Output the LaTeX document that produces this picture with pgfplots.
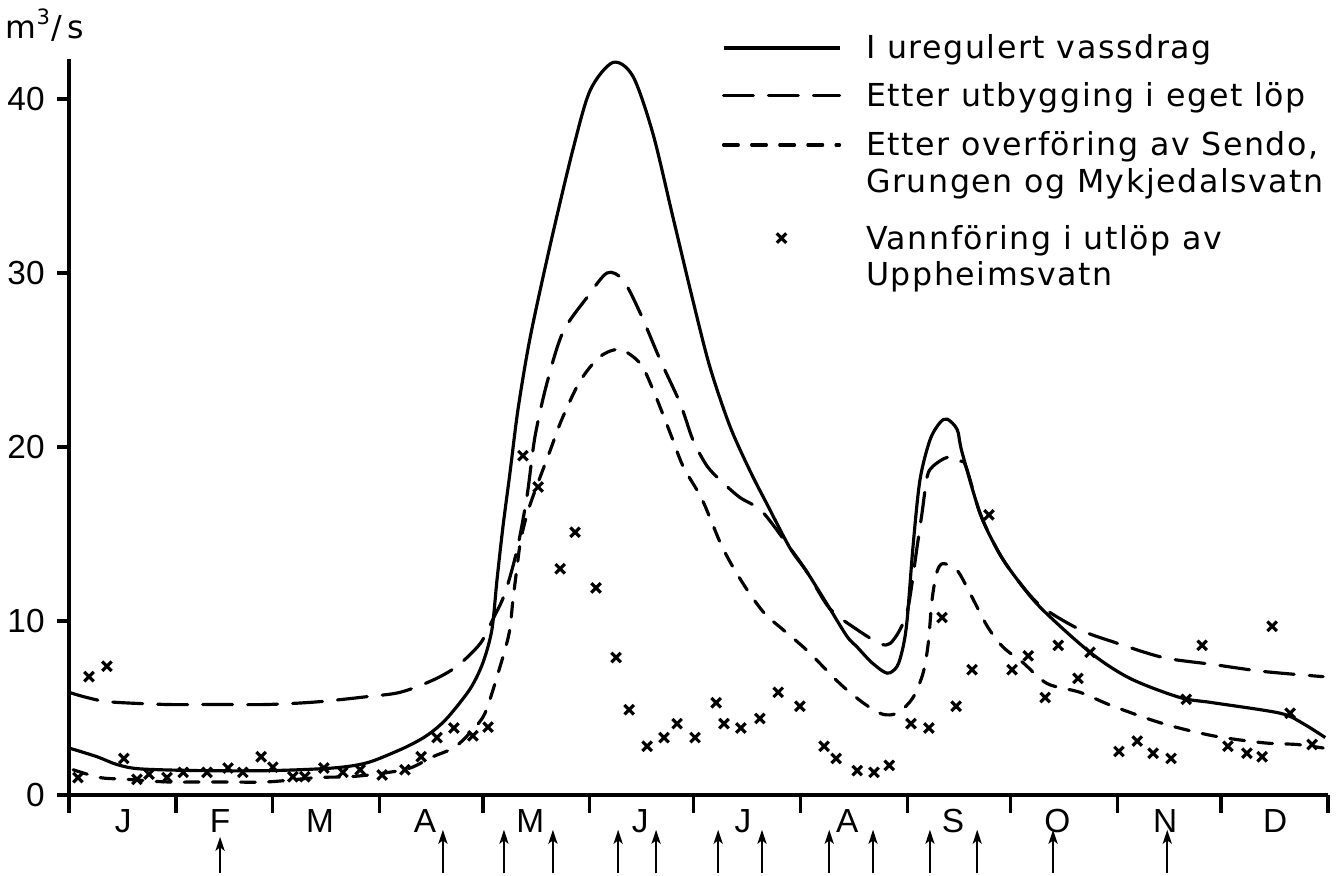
\documentclass[border=0pt]{standalone}
\usepackage{fontspec}
\setmainfont{DejaVu Sans}[LetterSpace=5]
\newfontfamily\tickfont{Liberation Sans}
\usepackage{pgfplots}
\pgfplotsset{compat=1.18}
\usetikzlibrary{arrows.meta}
\newcommand\lf{\fontsize{9}{11}\selectfont}
\newcommand\tf{\tickfont\fontsize{9.5}{11}\selectfont}
\newcommand\strH[1]{\rule[-2.5pt]{0pt}{#1}}
\pgfplotsset{markleg/.style={legend image code/.code={\draw[mark repeat=2,mark phase=2,##1] plot coordinates {(0cm,0.11cm) (0.58cm,0.11cm) (1.16cm,0.11cm)};}}}
\begin{document}
\begin{tikzpicture}
\useasboundingbox (0,0) rectangle (13.44cm,8.76cm);
\begin{axis}[
  at={(0.69cm,0.81cm)}, anchor=south west,
  scale only axis, width=12.59cm, height=7.36cm,
  xmin=0, xmax=365, ymin=0, ymax=42.3,
  axis lines*=left, clip=false,
  axis line style={line width=0.9pt},
  tick align=outside,
  major tick length=0.12cm, minor tick length=0.18cm,
  tick style={black, line width=0.9pt},
  ytick={0,10,20,30,40},
  xtick={15.7,43.8,72.8,103.2,133.7,165.6,195.4,225.6,256.3,286.5,317.8,349.7},
  xticklabels={J,F,M,A,M,J,J,A,S,O,N,D},
  minor xtick={0,31,59,90,120,151,181,212,243,273,304,334,365},
  major x tick style={draw=none},
  tick label style={font=\tf},
  xticklabel style={yshift=0.1cm},
  /pgf/number format/assume math mode=true,
  legend style={draw=none, fill=none, inner sep=0pt, outer sep=0pt,
    at={(axis cs:189.3,44.1)}, anchor=north west,
    font=\lf, row sep=0pt, column sep=0.25cm,
    cells={anchor=base west}, nodes={inner sep=0pt}},
  legend image code/.code={\draw[#1] (0cm,0.11cm) -- (1.16cm,0.11cm);},
]
% I uregulert vassdrag
\addplot[black, line width=0.9pt, smooth, tension=0.5] coordinates {
(0,2.7)(8.1,2.2)(13.9,1.75)(20.6,1.5)(38.0,1.4)(58.3,1.4)(76.5,1.55)(86.4,1.85)(96.0,2.6)(102.0,3.2)(106.0,3.75)(110.0,4.5)(116.3,6.1)(120.0,7.6)(122.6,9.5)(124.1,12.4)(125.8,15.4)(127.9,18.6)(130.2,22.2)(133.7,26.3)(139.5,31.6)(146.1,37.1)(151.1,40.5)(157.7,42.1)(163.5,41.3)(169.3,38.0)(175.1,33.2)(180.9,28.4)(185.8,24.6)(191.6,21.2)(197.5,18.6)(202.4,16.7)(209.0,14.2)(214.0,12.8)(220.6,10.7)(225.6,9.1)(228.5,8.5)(232.8,7.6)(237.2,7.0)(240.1,7.4)(241.8,8.5)(243.0,10.1)(244.7,14.3)(246.7,18.1)(249.6,20.4)(252.5,21.4)(254.6,21.6)(257.5,21.0)(258.9,19.7)(264.1,16.2)(269.1,14.1)(273.7,12.7)(281.5,10.8)(296.0,8.2)(307.6,6.7)(322.1,5.6)(331.7,5.3)(351.1,4.7)(357.8,4.1)(364.2,3.3)};
\addlegendentry{\strH{11.4pt}I uregulert vassdrag}
% Etter utbygging i eget lop
\addplot[black, line width=0.9pt, smooth, tension=0.5, line cap=round, dash pattern=on 8.5pt off 4.3pt] coordinates {
(0,5.9)(5.2,5.6)(11.9,5.35)(28.4,5.2)(42.9,5.2)(57.4,5.2)(71.9,5.35)(86.4,5.65)(96.0,5.9)(105.5,6.6)(112.5,7.4)(119.2,8.7)(122.9,10.1)(126.4,11.6)(129.9,14.1)(132.8,17.2)(135.1,20.6)(138.6,23.7)(143.2,26.6)(150.2,28.6)(156.0,30.0)(160.6,29.6)(165.6,27.7)(171.4,25.0)(177.2,22.5)(180.9,20.4)(185.0,18.9)(189.3,18.0)(194.5,17.1)(200.9,16.3)(209.0,14.2)(214.0,12.8)(220.6,10.7)(228.5,9.5)(235.1,8.7)(238.0,8.7)(240.9,9.5)(243.3,10.8)(245.9,14.3)(247.3,16.2)(248.8,18.3)(250.5,18.9)(254.6,19.4)(257.5,19.1)(259.8,19.0)(264.1,16.2)(269.1,14.1)(273.7,12.7)(281.5,10.9)(293.1,9.5)(302.7,8.8)(317.2,7.9)(331.7,7.5)(346.2,7.1)(363.6,6.8)};
\addlegendentry{\strH{14.5pt}Etter utbygging i eget löp}
% Etter overforing
\addplot[black, line width=0.9pt, smooth, tension=0.5, line cap=round, dash pattern=on 4.2pt off 3.8pt] coordinates {
(1.2,1.45)(9.0,1.0)(16.8,0.9)(28.4,0.75)(42.9,0.75)(57.4,0.75)(71.9,1.0)(81.5,1.05)(91.0,1.25)(98.9,1.55)(105.5,2.2)(110.5,2.6)(113.4,3.0)(116.8,3.7)(120.6,4.7)(124.7,7.2)(127.6,9.3)(128.7,11.2)(129.9,13.1)(131.1,14.8)(133.7,16.7)(139.5,19.8)(142.9,21.6)(148.2,23.8)(154.0,25.2)(159.8,25.6)(165.6,24.8)(169.3,23.3)(174.3,20.8)(178.0,18.9)(183.0,17.2)(185.9,15.9)(188.8,14.5)(192.2,13.2)(196.9,11.7)(201.8,10.4)(207.0,9.5)(214.0,8.3)(223.5,6.4)(230.2,5.3)(235.1,4.7)(238.0,4.6)(240.9,4.8)(244.7,5.6)(247.6,7.0)(249.1,8.7)(250.2,11.2)(251.6,12.8)(253.4,13.3)(257.5,12.9)(261.2,11.6)(266.2,9.7)(270.8,8.5)(276.6,7.6)(283.6,6.4)(293.1,5.9)(302.7,5.1)(317.2,4.1)(331.7,3.4)(346.2,3.0)(356.0,2.9)(363.6,2.7)};
\addlegendentry{\strH{15.1pt}Etter overföring av Sendo,}
\addlegendimage{empty legend}
\addlegendentry{\strH{11.4pt}Grungen og Mykjedalsvatn}
% Vannforing i utlop av Uppheimsvatn
\addplot[only marks, black, mark=x, mark size=1.9pt, mark options={line width=0.9pt}, markleg] coordinates {
(2.6,1.0)(5.8,6.8)(11.0,7.4)(15.9,2.1)(19.7,0.9)(23.2,1.2)(28.4,1.0)(33.1,1.3)(40.0,1.3)(46.1,1.55)(50.4,1.3)(55.7,2.2)(59.1,1.6)(64.9,1.05)(68.4,1.05)(73.9,1.55)(79.4,1.3)(84.4,1.45)(90.8,1.15)(97.4,1.45)(102.1,2.2)(106.7,3.3)(111.6,3.85)(117.1,3.4)(121.5,3.9)(131.6,19.5)(136.0,17.7)(142.4,13.0)(146.7,15.1)(152.8,11.9)(158.6,7.9)(162.4,4.9)(167.6,2.8)(172.5,3.3)(176.3,4.1)(181.5,3.3)(187.6,5.3)(189.9,4.1)(194.8,3.85)(200.3,4.4)(205.6,5.9)(211.9,5.1)(218.9,2.8)(222.4,2.1)(228.5,1.4)(233.4,1.3)(237.8,1.7)(244.1,4.1)(249.3,3.85)(253.1,10.2)(257.2,5.1)(261.8,7.2)(266.7,16.1)(273.4,7.2)(278.1,8.0)(283.0,5.6)(286.8,8.6)(292.5,6.7)(296.0,8.2)(304.4,2.5)(309.7,3.1)(314.3,2.4)(319.5,2.1)(323.9,5.5)(328.5,8.6)(336.0,2.8)(341.5,2.4)(345.9,2.2)(348.8,9.7)(354.0,4.7)(360.4,2.9)};
\addlegendentry{\strH{17.1pt}Vannföring i utlöp av}
\addlegendimage{empty legend}
\addlegendentry{\strH{11.4pt}Uppheimsvatn}
% arrows below the axis
\addplot[forget plot, black, line width=0.6pt, -{Stealth[length=4pt,width=2.6pt,inset=1pt]},
  quiver={u=0, v=\thisrow{v}}] table {
x y v
43.8 -4.5 2.1
108.4 -4.5 2.5
126.1 -4.5 2.5
140.3 -4.5 2.5
159.2 -4.5 2.5
170.2 -4.5 2.5
188.2 -4.5 2.5
200.9 -4.5 2.5
220.4 -4.5 2.5
233.1 -4.5 2.5
249.6 -4.5 2.5
263.3 -4.5 2.5
285.3 -4.5 2.5
318.4 -4.5 2.5
};
\node[font=\lf] at (rel axis cs:0,1) [xshift=-0.24cm, yshift=0.34cm] {m\textsuperscript{3}/\,s};
\end{axis}
\end{tikzpicture}
\end{document}
